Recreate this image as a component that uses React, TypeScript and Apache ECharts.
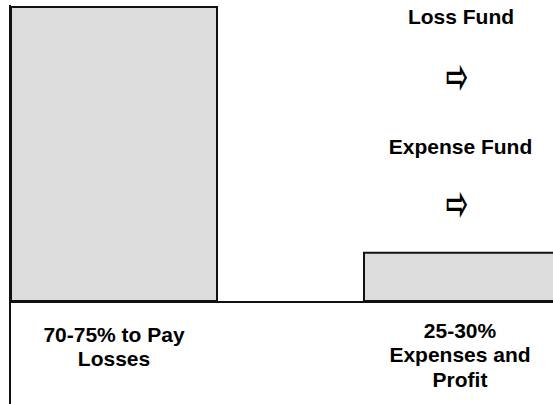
import React, { useEffect, useRef } from "react";
import * as echarts from "echarts";

const categories = ["70-75% to Pay\nLosses", "25-30%\nExpenses and\nProfit"];
const lossValues: (number | string)[] = [100, "-"];
const expenseValues: (number | string)[] = ["-", 17];
const sideNotes = ["Loss Fund", "⇨", "Expense Fund", "⇨"];

const FONT = "'Liberation Sans', Arial, sans-serif";

export default function App() {
  const ref = useRef<HTMLDivElement>(null);
  useEffect(() => {
    if (!ref.current) return;
    const chart = echarts.init(ref.current, undefined, { renderer: "svg" });
    const barStyle = { color: "#dcdcdc", borderColor: "#111", borderWidth: 2 };
    const arrowStyle = (text: string) => ({
      text,
      font: `bold 36px 'DejaVu Sans', sans-serif`,
      fill: "#000",
      textAlign: "center",
      textVerticalAlign: "middle",
    });
    chart.setOption({
      animation: false,
      backgroundColor: "#fff",
      grid: { left: -62.5, width: 706, top: 6, bottom: 102, outerBoundsMode: "none", containLabel: false },
      xAxis: {
        type: "category",
        data: [
          { value: categories[0], textStyle: { padding: [4, 0, 0, 0] } },
          { value: categories[1], textStyle: { padding: [0, 14, 0, 0] } },
        ],
        axisLine: { show: false },
        axisTick: { show: false },
        axisLabel: {
          interval: 0,
          margin: 16,
          color: "#000",
          fontFamily: FONT,
          fontWeight: "bold",
          fontSize: 21,
          lineHeight: 24.5,
          verticalAlign: "top",
        },
      },
      yAxis: {
        type: "value",
        min: 0,
        max: 100,
        show: false,
        splitLine: { show: false },
      },
      series: [
        {
          name: "Expenses",
          type: "bar",
          data: expenseValues,
          barWidth: 194,
          barGap: "-100%",
          itemStyle: barStyle,
        },
        {
          name: "Losses",
          type: "bar",
          data: lossValues,
          barWidth: 208,
          barGap: "-100%",
          itemStyle: barStyle,
        },
      ],
      graphic: [
        { type: "line", shape: { x1: 10, y1: 302, x2: 553, y2: 302 }, style: { stroke: "#111", lineWidth: 2 }, z: 10 },
        { type: "line", shape: { x1: 10, y1: 5, x2: 10, y2: 404 }, style: { stroke: "#111", lineWidth: 2 }, z: 10 },
        { type: "text", x: 461, y: 16, style: { text: sideNotes[0], font: `bold 21px ${FONT}`, fill: "#000", textAlign: "center", textVerticalAlign: "middle" } },
        { type: "text", x: 457, y: 76, scaleX: 0.75, scaleY: 1.35, style: arrowStyle(sideNotes[1]) },
        { type: "text", x: 460.5, y: 146, style: { text: sideNotes[2], font: `bold 21px ${FONT}`, fill: "#000", textAlign: "center", textVerticalAlign: "middle" } },
        { type: "text", x: 457, y: 203, scaleX: 0.75, scaleY: 1.35, style: arrowStyle(sideNotes[3]) },
      ],
    });
    return () => chart.dispose();
  }, []);
  return <div ref={ref} style={{ position: "fixed", left: 0, top: 0, width: 553, height: 404 }} />;
}
